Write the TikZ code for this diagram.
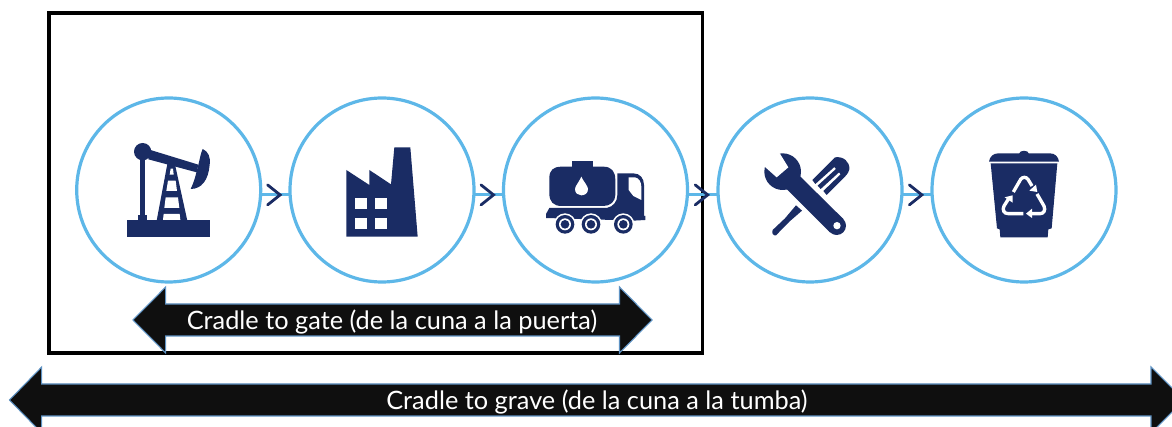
\documentclass[tikz,border=0pt]{standalone}
\usepackage{fontspec}
\setmainfont{Lato}
\usetikzlibrary{decorations.markings}
\definecolor{navy}{HTML}{1A2C64}
\definecolor{ringblue}{HTML}{5DB7E8}
\definecolor{barblack}{HTML}{0F0F0F}
\definecolor{baredge}{HTML}{5F93C4}
\tikzset{
  x=0.75pt,y=-0.75pt,
  ring/.style={circle,draw=ringblue,line width=2.4pt,fill=white,minimum size=138pt,inner sep=0pt},
  link/.style={draw=ringblue,line width=2.4pt,postaction={decorate},decoration={markings,mark=at position 0.68 with {\draw[navy,line width=2.1pt,line cap=round,miter limit=10] (-12.5,-10)--(0,0)--(-12.5,10);}}},
  bigarrow/.style={fill=barblack,draw=baredge,line width=0.8pt},
  arrowtext/.style={text=white,font=\fontsize{19}{22}\selectfont,inner sep=0pt},
  ico/.style={fill=navy,draw=none},
  hole/.style={fill=white,draw=none},
}
\begin{document}
\begin{tikzpicture}
\useasboundingbox (0,0) rectangle (1172,427);
\clip (0,0) rectangle (1172,427);
\fill[white] (0,0) rectangle (1172,427);
\draw[black,line width=2.6pt] (49,13) rectangle (702.5,353);
\node[ring] (c1) at (168.7,190) {};
\node[ring] (c2) at (382,190) {};
\node[ring] (c3) at (595.5,190) {};
\node[ring] (c4) at (810,190) {};
\node[ring] (c5) at (1024,190) {};
\draw[link] (c1.-3) -- (c2.183);
\draw[link] (c2.-3) -- (c3.183);
\draw[link] (c3.-3) -- (c4.183);
\draw[link] (c4.-3) -- (c5.183);
% double arrows
\draw[bigarrow] (133,320)--(165.7,287)--(165.7,304)--(619.5,304)--(619.5,287)--(652,320)--(619.5,353)--(619.5,336)--(165.7,336)--(165.7,353)--cycle;
\draw[bigarrow] (9.5,400)--(41.7,367)--(41.7,384)--(1151,384)--(1151,367)--(1184,400)--(1151,433)--(1151,416)--(41.7,416)--(41.7,433)--cycle;
\node[arrowtext] (gate) at (392,321.5) {Cradle to gate (de la cuna a la puerta)};
\node[arrowtext] (grave) at (597,402) {Cradle to grave (de la cuna a la tumba)};
% pump jack
\begin{scope}[shift={(70,90)},scale=1/3]
\fill[ico] (172,390) rectangle (420,441);
\fill[ico] (204,374) rectangle (232,392);
\fill[ico] (211,200) rectangle (225,376);
\fill[ico] (218,185) circle (26);
\fill[ico] (235,178)--(385,224)--(380,247)--(235,208)--cycle;
\fill[ico] (398,177) .. controls (415,185) and (422,200) .. (419,225) .. controls (415,270) and (395,297) .. (362,297) .. controls (375,270) and (378,250) .. (385,225) .. controls (390,205) and (392,190) .. (398,177) --cycle;
\fill[ico] (292,222)--(316,228)--(352,392)--(260,392)--cycle;
\fill[hole] (302,236)--(309,236)--(311,254)--(299,254)--cycle;
\fill[hole] (294,272)--(317,272)--(321,303)--(289,303)--cycle;
\fill[hole] (287,322)--(324,322)--(328,354)--(283,354)--cycle;
\fill[hole] (281,372)--(329,372)--(331,390)--(279,390)--cycle;
\end{scope}
% factory
\begin{scope}[shift={(335,140)},scale=1/3]
\fill[ico] (34,90)--(103,135)--(103,90)--(168,133)--(178,22)--(226,22)--(248,290)--(34,290)--cycle;
\foreach \a in {60,120}{\foreach \b in {174,233}{\fill[hole] (\a,\b) rectangle ++(35,34);}}
\end{scope}
% tanker
\begin{scope}[shift={(470,120)},scale=1/3]
\fill[ico] (305,122) rectangle (370,145);
\fill[ico] (238,175) .. controls (238,150) and (250,140) .. (275,140) -- (400,140) .. controls (425,140) and (436,155) .. (436,180) -- (436,225) .. controls (436,245) and (420,258) .. (400,258) -- (275,258) .. controls (250,258) and (238,245) .. (238,220) --cycle;
\fill[hole] (334,170) .. controls (325,190) and (315,198) .. (315,208) .. controls (315,220) and (325,226) .. (334,226) .. controls (344,226) and (354,220) .. (354,208) .. controls (354,198) and (344,190) .. (334,170)--cycle;
\fill[ico] (442,160) -- (490,160) .. controls (510,160) and (522,175) .. (522,195) -- (522,288) -- (526,288) -- (526,300) -- (490,302) -- (430,302) -- (430,300) -- (228,294) -- (228,282) -- (238,264) -- (410,264) .. controls (430,260) and (442,245) .. (442,225) -- cycle;
\fill[hole] (476,172) -- (495,172) .. controls (508,175) and (513,185) .. (514,200) -- (514,240) -- (490,228) -- (476,210) --cycle;
\foreach \w in {285,363,460}{
 \fill[hole] (\w,313) circle (33);
 \fill[ico] (\w,313) circle (28);
 \fill[hole] (\w,313) circle (18);
 \fill[ico] (\w,313) circle (13);
}
\end{scope}
% tools
\begin{scope}[shift={(470,120)},scale=1/3]
% screwdriver
\fill[ico] (1095,112) .. controls (1120,108) and (1140,125) .. (1138,148) .. controls (1136,160) and (1125,170) .. (1115,180) -- (1070,225) -- (1060,213) -- (1112,163) -- (1107,157) -- (1052,207) -- (1043,197) -- (1098,147) -- (1093,141) -- (1036,192) -- (1027,180) -- cycle;
\fill[ico] (978,256) -- (996,272) -- (958,305) -- (918,346) .. controls (910,348) and (904,340) .. (908,330) -- (945,295) --cycle;
% wrench
\fill[ico] (938,155) circle (55);
\fill[ico] (966,145) -- (1120,297) -- (1080,337) -- (930,187) --cycle;
\fill[ico] (1100,317) circle (28);
\fill[hole] (928,98) -- (955,142) -- (920,172) -- (884,140) -- (870,98) --cycle;
\fill[hole] (1101,317) circle (11);
\end{scope}
% bin
\begin{scope}[shift={(900,120)},scale=1/3]
\fill[ico] (358,100) .. controls (358,90) and (386,90) .. (386,100) -- (450,100) .. controls (465,100) and (475,110) .. (477,125) -- (267,125) .. controls (269,110) and (280,100) .. (295,100) --cycle;
\fill[ico] (272,130) -- (472,130) -- (455,325) -- (445,328) -- (443,352) -- (301,352) -- (299,328) -- (291,325) --cycle;
\begin{scope}[white,line width=2.5pt,line cap=butt]
\draw (340,216) -- (362,178) .. controls (368,170) and (378,170) .. (384,178) -- (396,198);
\fill (408,194) -- (412,216) -- (388,212) --cycle;
\draw (411,222) -- (432,258) .. controls (438,272) and (430,281) .. (420,281) -- (394,281);
\fill (396,266) -- (378,281) -- (396,294) --cycle;
\draw (370,281) -- (325,281) .. controls (312,281) and (306,270) .. (312,258) -- (326,236);
\fill (314,232) -- (338,226) -- (338,248) --cycle;
\end{scope}
\end{scope}
\end{tikzpicture}
\end{document}
